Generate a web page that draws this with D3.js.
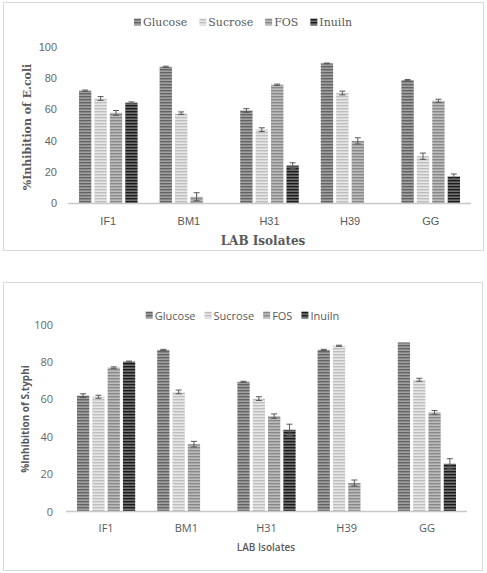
<!DOCTYPE html>
<html>
<head>
<meta charset="utf-8">
<script src="https://cdn.jsdelivr.net/npm/d3@7/dist/d3.min.js"></script>
<style>
  body { margin: 0; background: #fff; }
  svg { display: block; }
</style>
</head>
<body>
<div id="chart"></div>
<script>
// Deux panneaux : % inhibition de E.coli (haut) et S.typhi (bas)
const categories = ["IF1", "BM1", "H31", "H39", "GG"]
const series = ["Glucose", "Sucrose", "FOS", "Inuiln"]
const yTicks = [0, 20, 40, 60, 80, 100]

// E.coli (null = pas de barre)
const ecoliGlucose = [72, 87.3, 59.3, 89.5, 78.8]
const ecoliSucrose = [67, 57.6, 47, 70.5, 30]
const ecoliFOS = [57.8, 4, 75.8, 39.8, 65.5]
const ecoliInuiln = [64.3, null, 24, null, 17]
const ecoliGlucoseErr = [0.4, 0.4, 1.2, 0.2, 0.4]
const ecoliSucroseErr = [1.2, 0.8, 1.2, 1.2, 2]
const ecoliFOSErr = [1.5, 2.6, 0.4, 2, 1]
const ecoliInuilnErr = [0.5, 0, 1.8, 0, 1.6]

// S.typhi
const typhiGlucose = [61.8, 86.3, 69.2, 86.3, 90.3]
const typhiSucrose = [61.2, 63.8, 60.2, 88.5, 70.3]
const typhiFOS = [76.8, 35.8, 50.8, 15, 52.8]
const typhiInuiln = [80, null, 43.5, null, 25.3]
const typhiGlucoseErr = [1, 0.3, 0.3, 0.3, 0]
const typhiSucroseErr = [0.8, 1, 1, 0.3, 0.8]
const typhiFOSErr = [0.4, 1.5, 1.2, 1.6, 1]
const typhiInuilnErr = [0.3, 0, 3, 0, 2.7]

// rayures horizontales (clair / foncé) par série
const stripes = {
  Glucose: ["#a0a0a0", "#646464"],
  Sucrose: ["#e6e6e6", "#bebebe"],
  FOS: ["#bcbcbc", "#888888"],
  Inuiln: ["#707070", "#1c1c1c"],
}

const W = 487, H = 573
const svg = d3.select("#chart").append("svg")
  .attr("width", W).attr("height", H)

const defs = svg.append("defs")
series.forEach(s => {
  const p = defs.append("pattern")
    .attr("id", "pat-" + s)
    .attr("patternUnits", "userSpaceOnUse")
    .attr("width", 4).attr("height", 3)
  p.append("rect").attr("width", 4).attr("height", 3).attr("fill", stripes[s][0])
  p.append("rect").attr("width", 4).attr("height", 1.4).attr("fill", stripes[s][1])
})

function drawChart(o) {
  const g = svg.append("g")

  // cadre du graphique
  g.append("rect")
    .attr("x", o.box[0] + 0.5).attr("y", o.box[1] + 0.5)
    .attr("width", o.box[2]).attr("height", o.box[3])
    .attr("fill", "#fff").attr("stroke", "#d9d9d9")

  const x0 = d3.scaleBand().domain(categories).range(o.xRange)
  const x1 = d3.scaleBand().domain(series)
    .range([11, x0.bandwidth() - 11]).paddingInner(0.2)
  const y = d3.scaleLinear().domain([0, 100]).range(o.yRange)

  // ticks Y
  g.selectAll("text.ytick").data(yTicks).join("text")
    .attr("class", "ytick")
    .attr("x", o.yTickX).attr("y", d => y(d))
    .attr("text-anchor", "end").attr("dominant-baseline", "central")
    .attr("font-family", o.tickFont).attr("font-size", o.tickSize)
    .attr("fill", "#666")
    .text(d => d)

  const rows = series.map((s, i) => categories.map((c, j) => ({
    s, c, v: o.values[i][j], e: o.errors[i][j]
  }))).flat().filter(d => d.v != null)

  g.selectAll("rect.bar").data(rows).join("rect")
    .attr("class", "bar")
    .attr("x", d => x0(d.c) + x1(d.s))
    .attr("y", d => y(d.v))
    .attr("width", x1.bandwidth())
    .attr("height", d => y(0) - y(d.v))
    .attr("fill", d => `url(#pat-${d.s})`)

  // barres d'erreur
  const eb = g.selectAll("g.err").data(rows.filter(d => d.e > 0)).join("g")
    .attr("class", "err")
    .attr("transform", d => `translate(${x0(d.c) + x1(d.s) + x1.bandwidth() / 2},0)`)
    .attr("stroke", "#595959").attr("stroke-width", 1)
  eb.append("line").attr("y1", d => y(d.v + d.e)).attr("y2", d => y(d.v - d.e))
  eb.append("line").attr("x1", -3).attr("x2", 3)
    .attr("y1", d => y(d.v + d.e)).attr("y2", d => y(d.v + d.e))
  eb.append("line").attr("x1", -3).attr("x2", 3)
    .attr("y1", d => y(d.v - d.e)).attr("y2", d => y(d.v - d.e))

  // axe X
  g.append("line")
    .attr("x1", o.xRange[0]).attr("x2", o.xRange[1])
    .attr("y1", y(0) + 0.5).attr("y2", y(0) + 0.5)
    .attr("stroke", "#c8c8c8").attr("stroke-width", 1.5)

  g.selectAll("text.xtick").data(categories).join("text")
    .attr("class", "xtick")
    .attr("x", d => x0(d) + x0.bandwidth() / 2).attr("y", o.catY)
    .attr("text-anchor", "middle").attr("dominant-baseline", "central")
    .attr("font-family", o.tickFont).attr("font-size", o.tickSize)
    .attr("fill", "#595959")
    .text(d => d)

  // titres d'axes
  g.append("text")
    .attr("transform", `translate(${o.yTitle[0]},${o.yTitle[1]}) rotate(-90)`)
    .attr("text-anchor", "middle").attr("dominant-baseline", "central")
    .attr("font-family", o.titleFont).attr("font-size", o.yTitleSize)
    .attr("font-weight", "bold").attr("fill", "#595959")
    .text(o.yLabel)

  g.append("text")
    .attr("x", o.xTitle[0]).attr("y", o.xTitle[1])
    .attr("text-anchor", "middle").attr("dominant-baseline", "central")
    .attr("font-family", o.titleFont).attr("font-size", o.xTitleSize)
    .attr("font-weight", o.xTitleWeight).attr("fill", "#595959")
    .text("LAB Isolates")

  // légende centrée sur le cadre
  const lg = g.append("g")
  let cx = 0
  series.forEach(s => {
    const it = lg.append("g").attr("transform", `translate(${cx},0)`)
    it.append("rect").attr("x", 0).attr("y", -3.5).attr("width", 7).attr("height", 7)
      .attr("fill", `url(#pat-${s})`)
    const t = it.append("text").attr("x", 9).attr("y", 0)
      .attr("dominant-baseline", "central")
      .attr("font-family", o.legendFont).attr("font-size", o.legendSize)
      .attr("fill", "#595959").text(s)
    cx += 9 + t.node().getComputedTextLength() + o.legendGap
  })
  const lw = cx - o.legendGap
  lg.attr("transform", `translate(${o.box[0] + o.box[2] / 2 - lw / 2},${o.legendY})`)
}

drawChart({
  box: [3, 2, 480, 248],
  xRange: [68, 471], yRange: [203, 47],
  values: [ecoliGlucose, ecoliSucrose, ecoliFOS, ecoliInuiln],
  errors: [ecoliGlucoseErr, ecoliSucroseErr, ecoliFOSErr, ecoliInuilnErr],
  tickFont: "Liberation Sans, Arial, sans-serif", tickSize: 11, yTickX: 57,
  catY: 221,
  titleFont: "DejaVu Serif, serif", yTitleSize: 11, xTitleSize: 12, xTitleWeight: "bold",
  yLabel: "%Inhibition of E.coli", yTitle: [27, 127], xTitle: [263, 241],
  legendFont: "DejaVu Serif, serif", legendSize: 11, legendGap: 12, legendY: 22,
})

drawChart({
  box: [3, 282, 479, 288],
  xRange: [66, 467], yRange: [511, 324.3],
  values: [typhiGlucose, typhiSucrose, typhiFOS, typhiInuiln],
  errors: [typhiGlucoseErr, typhiSucroseErr, typhiFOSErr, typhiInuilnErr],
  tickFont: "Open Sans, sans-serif", tickSize: 11, yTickX: 53,
  catY: 527,
  titleFont: "Open Sans, sans-serif", yTitleSize: 10, xTitleSize: 10, xTitleWeight: 600,
  yLabel: "%Inhibition of S.typhi", yTitle: [25, 419], xTitle: [266, 547],
  legendFont: "Open Sans, sans-serif", legendSize: 11, legendGap: 9, legendY: 315,
})
</script>
</body>
</html>
